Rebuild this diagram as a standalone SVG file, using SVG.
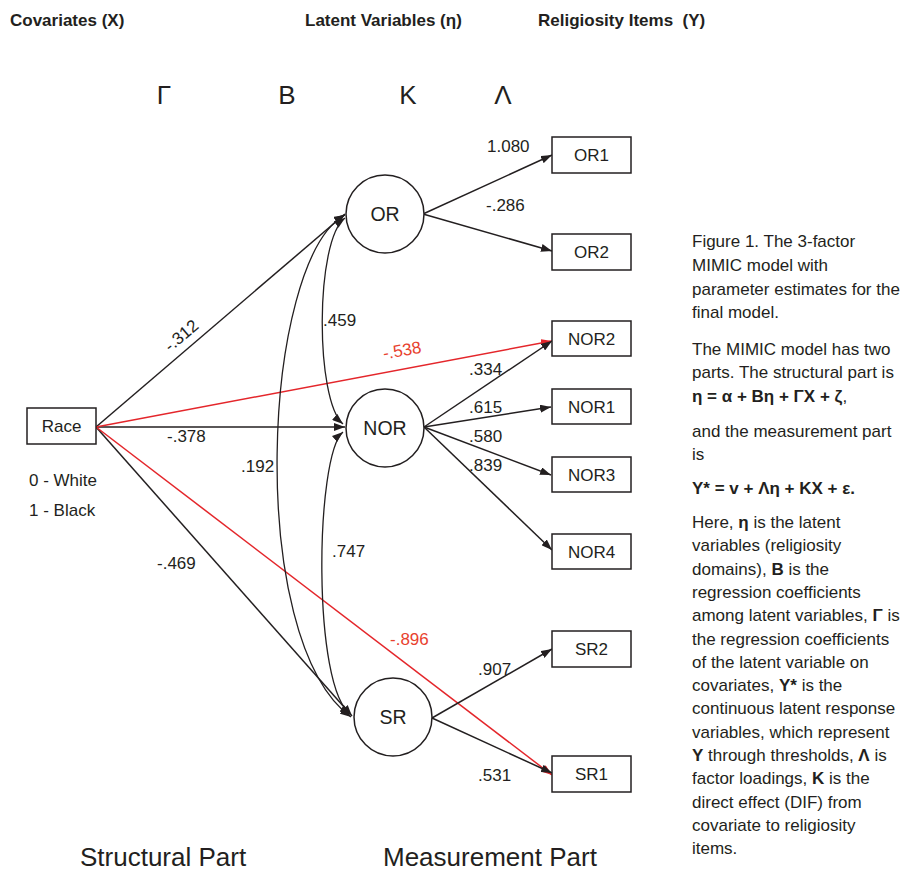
<svg xmlns="http://www.w3.org/2000/svg" width="905" height="871" viewBox="0 0 905 871">
<defs>
<style>
text{font-family:"Liberation Sans",Arial,sans-serif;fill:#231f20}
.title{font-size:17px;font-weight:bold}
.greek{font-size:26px}
.lbl{font-size:17px}
.node{fill:#fff;stroke:#231f20;stroke-width:1.5}
.bt{font-size:17px;text-anchor:middle}
.ct{font-size:19.5px;text-anchor:middle}
.e{fill:none;stroke:#231f20;stroke-width:1.5;marker-end:url(#ah)}
.r{fill:none;stroke:#e4262b;stroke-width:1.5;marker-end:url(#ahr)}
.c{fill:none;stroke:#231f20;stroke-width:1.3;marker-end:url(#ah);marker-start:url(#ah)}
.red{fill:#e8412e}
.cap{font-size:17px}
.part{font-size:26px}
</style>
<marker id="ah" markerUnits="userSpaceOnUse" markerWidth="11" markerHeight="8" refX="11" refY="4" orient="auto-start-reverse"><path d="M0,0 L11,4 L0,8 z" fill="#231f20"/></marker>
<marker id="ahr" markerUnits="userSpaceOnUse" markerWidth="11" markerHeight="8" refX="11" refY="4" orient="auto-start-reverse"><path d="M0,0 L11,4 L0,8 z" fill="#e4262b"/></marker>
</defs>
<rect width="905" height="871" fill="#fff"/>

<g id="headers">
<text class="title" x="10" y="26">Covariates (X)</text>
<text class="title" x="305" y="26">Latent Variables (η)</text>
<text class="title" x="538" y="26" xml:space="preserve">Religiosity Items  (Y)</text>
<text class="greek" x="164" y="104" text-anchor="middle">Γ</text>
<text class="greek" x="287" y="104" text-anchor="middle">B</text>
<text class="greek" x="408" y="104" text-anchor="middle">K</text>
<text class="greek" x="503" y="104" text-anchor="middle">Λ</text>
</g>

<g id="connectors">
<line class="e" x1="96" y1="427" x2="345" y2="214"/>
<line class="e" x1="96" y1="427" x2="345" y2="427"/>
<line class="e" x1="96" y1="427" x2="352" y2="716"/>
<line class="r" x1="96" y1="427" x2="552" y2="341"/>
<line class="r" x1="96" y1="427" x2="552" y2="775"/>
<path class="c" d="M345,218 C315,240 315,400 343,424"/>
<path class="c" d="M343,432 C315,455 312,690 351,714"/>
<path class="c" d="M345,215 C262,260 245,640 351,717"/>
<line class="e" x1="423" y1="214" x2="552" y2="155"/>
<line class="e" x1="423" y1="214" x2="552" y2="251"/>
<line class="e" x1="424" y1="427" x2="552" y2="341"/>
<line class="e" x1="424" y1="427" x2="551" y2="407"/>
<line class="e" x1="424" y1="427" x2="551" y2="475"/>
<line class="e" x1="424" y1="427" x2="552" y2="550"/>
<line class="e" x1="432" y1="718" x2="552" y2="649"/>
<line class="e" x1="432" y1="718" x2="552" y2="773"/>
</g>

<g id="edge-labels">
<text class="lbl" x="185" y="340" text-anchor="middle" transform="rotate(-40 185 340)">-.312</text>
<text class="lbl" x="167" y="442">-.378</text>
<text class="lbl" x="157" y="569">-.469</text>
<text class="lbl" x="323" y="326">.459</text>
<text class="lbl" x="241" y="472">.192</text>
<text class="lbl" x="332" y="557">.747</text>
<text class="lbl red" x="403" y="356" text-anchor="middle" transform="rotate(-10 403 356)">-.538</text>
<text class="lbl red" x="390" y="645">-.896</text>
<text class="lbl" x="487" y="152">1.080</text>
<text class="lbl" x="486" y="211">-.286</text>
<text class="lbl" x="469" y="375">.334</text>
<text class="lbl" x="469" y="413">.615</text>
<text class="lbl" x="469" y="442">.580</text>
<text class="lbl" x="469" y="471">.839</text>
<text class="lbl" x="478" y="675">.907</text>
<text class="lbl" x="478" y="781">.531</text>
</g>

<g id="race"><rect class="node" x="27" y="408" width="69" height="36"/><text class="bt" x="61.5" y="432">Race</text></g>
<g id="race-codes"><text class="lbl" x="29" y="486">0 - White</text><text class="lbl" x="29" y="516">1 - Black</text></g>

<g id="OR"><circle class="node" cx="385" cy="214" r="39"/><text class="ct" x="385" y="221">OR</text></g>
<g id="NOR"><circle class="node" cx="385" cy="428" r="39"/><text class="ct" x="385" y="435">NOR</text></g>
<g id="SR"><circle class="node" cx="393" cy="717" r="39"/><text class="ct" x="393" y="724">SR</text></g>

<g id="OR1"><rect class="node" x="552" y="137" width="79" height="36"/><text class="bt" x="591.5" y="161">OR1</text></g>
<g id="OR2"><rect class="node" x="552" y="234" width="79" height="36"/><text class="bt" x="591.5" y="258">OR2</text></g>
<g id="NOR2"><rect class="node" x="552" y="321" width="79" height="35"/><text class="bt" x="591.5" y="345">NOR2</text></g>
<g id="NOR1"><rect class="node" x="552" y="389" width="79" height="35"/><text class="bt" x="591.5" y="413">NOR1</text></g>
<g id="NOR3"><rect class="node" x="552" y="457" width="79" height="35"/><text class="bt" x="591.5" y="481">NOR3</text></g>
<g id="NOR4"><rect class="node" x="552" y="534" width="79" height="35"/><text class="bt" x="591.5" y="558">NOR4</text></g>
<g id="SR2"><rect class="node" x="552" y="631" width="79" height="36"/><text class="bt" x="591.5" y="655">SR2</text></g>
<g id="SR1"><rect class="node" x="552" y="756" width="79" height="36"/><text class="bt" x="591.5" y="780">SR1</text></g>

<g id="caption" class="cap">
<text class="cap" x="692" y="247">Figure 1. The 3-factor</text>
<text class="cap" x="692" y="271">MIMIC model with</text>
<text class="cap" x="692" y="295">parameter estimates for the</text>
<text class="cap" x="692" y="318">final model.</text>
<text class="cap" x="692" y="355">The MIMIC model has two</text>
<text class="cap" x="692" y="378">parts. The structural part is</text>
<text class="cap" x="692" y="402" font-weight="bold">η = α + Bη + ΓX + ζ<tspan font-weight="normal">,</tspan></text>
<text class="cap" x="692" y="437">and the measurement part</text>
<text class="cap" x="692" y="460">is</text>
<text class="cap" x="692" y="494" font-weight="bold">Y* = v + Λη + KX + ε.</text>
<text class="cap" x="692" y="528">Here, <tspan font-weight="bold">η</tspan> is the latent</text>
<text class="cap" x="692" y="551.3">variables (religiosity</text>
<text class="cap" x="692" y="574.6">domains), <tspan font-weight="bold">B</tspan> is the</text>
<text class="cap" x="692" y="597.9">regression coefficients</text>
<text class="cap" x="692" y="621.2">among latent variables, <tspan font-weight="bold">Γ</tspan> is</text>
<text class="cap" x="692" y="644.5">the regression coefficients</text>
<text class="cap" x="692" y="667.8">of the latent variable on</text>
<text class="cap" x="692" y="691.1">covariates, <tspan font-weight="bold">Y*</tspan> is the</text>
<text class="cap" x="692" y="714.4">continuous latent response</text>
<text class="cap" x="692" y="737.7">variables, which represent</text>
<text class="cap" x="692" y="761"><tspan font-weight="bold">Y</tspan> through thresholds, <tspan font-weight="bold">Λ</tspan> is</text>
<text class="cap" x="692" y="784.3">factor loadings, <tspan font-weight="bold">K</tspan> is the</text>
<text class="cap" x="692" y="807.6">direct effect (DIF) from</text>
<text class="cap" x="692" y="830.9">covariate to religiosity</text>
<text class="cap" x="692" y="854.2">items.</text>
</g>

<g id="parts">
<text class="part" x="80" y="866">Structural Part</text>
<text class="part" x="383" y="866">Measurement Part</text>
</g>
</svg>
